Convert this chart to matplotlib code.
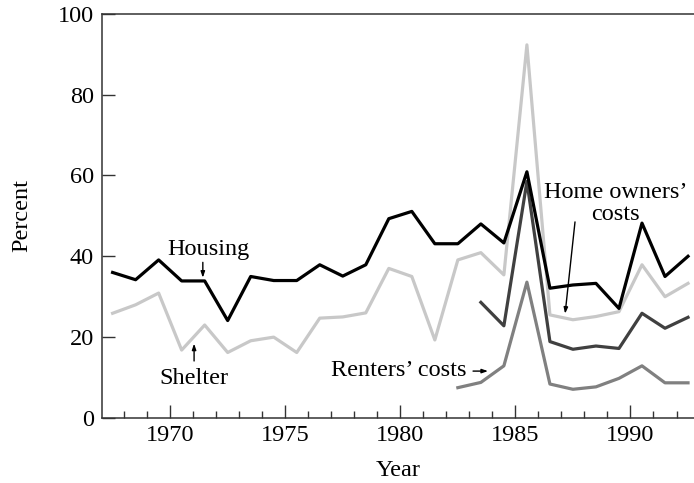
import numpy as np
import matplotlib.pyplot as plt

plt.rcParams['font.family'] = ['Liberation Serif', 'DejaVu Serif']

# annual percent change, one value per year (drawn at mid-year)
years = list(range(1967, 1993))
housing = [36.0, 34.2, 39.1, 33.9, 33.9, 24.1, 35.0, 34.0, 34.0, 37.9, 35.1, 37.9, 49.3,
           51.1, 43.1, 43.1, 48.0, 43.3, 60.9, 32.1, 32.9, 33.3, 27.1, 48.2, 35.0, 40.0]
shelter = [25.9, 28.0, 30.9, 16.8, 23.0, 16.2, 19.1, 20.0, 16.2, 24.7, 25.0, 26.0, 37.0,
           35.0, 19.3, 39.1, 40.9, 35.4, 92.3, 25.5, 24.3, 25.1, 26.3, 37.9, 30.0, 33.3]
owner_years = list(range(1983, 1993))
owners = [28.6, 22.8, 58.5, 18.9, 17.0, 17.8, 17.2, 25.9, 22.2, 24.9]
renter_years = list(range(1982, 1993))
renters = [7.5, 8.8, 12.9, 33.6, 8.4, 7.1, 7.7, 9.8, 12.9, 8.7, 8.7]

major_years = [1970, 1975, 1980, 1985, 1990]
y_ticks = [0, 20, 40, 60, 80, 100]


def mid(yrs):
    return np.array(yrs) + 0.5


fig = plt.figure(figsize=(6.94, 4.83), dpi=100)
ax = fig.add_axes([0.147, 0.1346, 0.853, 0.837])

lw = 2.3
ax.plot(mid(years), shelter, color='#c8c8c8', lw=lw)
ax.plot(mid(renter_years), renters, color='#808080', lw=lw)
ax.plot(mid(owner_years), owners, color='#404040', lw=lw)
ax.plot(mid(years), housing, color='black', lw=lw)

ax.set_xlim(1967.04, 1992.76)
ax.set_ylim(0, 100)
ax.set_xticks(major_years)
ax.set_xticks(range(1968, 1993), minor=True)
ax.set_yticks(y_ticks)

for s in ['left', 'bottom', 'top']:
    ax.spines[s].set_color('#333333')
    ax.spines[s].set_linewidth(1.1)
ax.spines['right'].set_visible(False)

fs = 17.5
ax.tick_params(axis='both', which='major', direction='in', length=9.5, width=1,
               color='#333333', labelsize=fs)
ax.tick_params(axis='x', which='major', pad=5)
ax.tick_params(axis='y', which='major', pad=6)
ax.tick_params(axis='x', which='minor', direction='in', length=4.7, width=1,
               color='#333333')

ax.set_xlabel('Year', fontsize=fs, labelpad=10)
ax.set_ylabel('Percent', fontsize=fs, labelpad=18)

txt = dict(fontsize=fs, color='black')
arrow = dict(arrowstyle='-|>,head_length=0.35,head_width=0.12', color='black', lw=1,
             shrinkA=0, shrinkB=0)

ax.text(1971.66, 40.4, 'Housing', ha='center', va='baseline', **txt)
ax.annotate('', xy=(1971.42, 34.7), xytext=(1971.42, 38.5), arrowprops=arrow)

ax.text(1971.03, 8.5, 'Shelter', ha='center', va='baseline', **txt)
ax.annotate('', xy=(1971.04, 18.4), xytext=(1971.04, 14.1), arrowprops=arrow)

ax.text(1982.89, 10.4, 'Renters\u2019 costs', ha='right', va='baseline', **txt)
ax.annotate('', xy=(1983.81, 11.6), xytext=(1983.16, 11.6), arrowprops=arrow)

ax.text(1989.34, 54.3, 'Home owners\u2019', ha='center', va='baseline', **txt)
ax.text(1989.34, 48.9, 'costs', ha='center', va='baseline', **txt)
ax.annotate('', xy=(1987.16, 25.8), xytext=(1987.59, 48.5), arrowprops=arrow)

fig.savefig('out.png', dpi=100)
